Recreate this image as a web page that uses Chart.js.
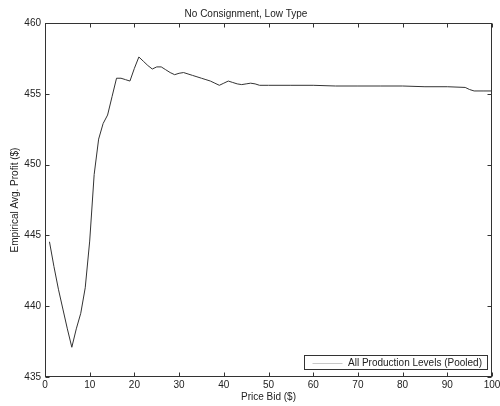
<!DOCTYPE html>
<html>
<head>
<meta charset="utf-8">
<script src="https://cdn.jsdelivr.net/npm/chart.js@4/dist/chart.umd.min.js"></script>
<style>
  html, body { margin: 0; padding: 0; background: #fff; }
  #wrap { position: relative; width: 500px; height: 406px; }
</style>
</head>
<body>
<div id="wrap"><canvas id="chart" width="500" height="406"></canvas></div>
<script>
// price bid ($) and pooled empirical average profit ($)
const priceBid = [1, 2, 3, 4, 5, 6, 7, 8, 9, 10, 11, 12, 13, 14, 15, 16, 17, 18, 19, 20,
  21, 22, 23, 24, 25, 26, 27, 28, 29, 30, 31, 32, 33, 34, 35, 36, 37, 38, 39, 40,
  41, 42, 43, 44, 45, 46, 47, 48, 50, 55, 60, 65, 70, 75, 80, 85, 90, 94, 95, 96, 98, 100];
const avgProfit = [444.55, 442.8, 441.2, 439.8, 438.4, 437.1, 438.4, 439.5, 441.3, 444.6,
  449.3, 451.8, 452.9, 453.5, 454.8, 456.1, 456.1, 456.0, 455.9, 456.8,
  457.6, 457.3, 457.0, 456.75, 456.9, 456.9, 456.7, 456.5, 456.35, 456.45,
  456.5, 456.4, 456.3, 456.2, 456.1, 456.0, 455.9, 455.75, 455.6, 455.75,
  455.9, 455.8, 455.7, 455.65, 455.7, 455.75, 455.7, 455.6, 455.6, 455.6,
  455.6, 455.55, 455.55, 455.55, 455.55, 455.5, 455.5, 455.45, 455.3, 455.2, 455.2, 455.2];
const seriesLabel = 'All Production Levels (Pooled)';
const xTicks = [0, 10, 20, 30, 40, 50, 60, 70, 80, 90, 100];
const yTicks = [435, 440, 445, 450, 455, 460];

const FONT = { family: '"Liberation Sans", Arial, Helvetica, sans-serif', size: 10, lineHeight: 1.2 };
const INK = '#222';

// matlab style box, inward ticks on all four sides, legend in the lower right
const matlabFrame = {
  id: 'matlabFrame',
  afterDraw(chart) {
    const { ctx, chartArea: a, scales: { x, y } } = chart;
    const L = Math.round(a.left) + 0.5, R = Math.round(a.right) - 0.5;
    const T = Math.round(a.top) + 0.5, B = Math.round(a.bottom) - 0.5;
    ctx.save();
    ctx.strokeStyle = '#333';
    ctx.lineWidth = 1;
    ctx.strokeRect(L, T, R - L, B - T);
    ctx.beginPath();
    x.ticks.forEach(t => {
      const px = Math.round(x.getPixelForValue(t.value)) + 0.5;
      ctx.moveTo(px, B); ctx.lineTo(px, B - 4);
      ctx.moveTo(px, T); ctx.lineTo(px, T + 4);
    });
    y.ticks.forEach(t => {
      const py = Math.round(y.getPixelForValue(t.value)) + 0.5;
      ctx.moveTo(L, py); ctx.lineTo(L + 4, py);
      ctx.moveTo(R, py); ctx.lineTo(R - 4, py);
    });
    ctx.stroke();

    // legend
    ctx.font = `${FONT.size}px ${FONT.family}`;
    const tw = ctx.measureText(seriesLabel).width;
    const w = Math.round(tw + 49), h = 14;
    const lx = Math.round(a.right) - 5 - w + 0.5, ly = B - 7 - h;
    ctx.fillStyle = '#fff';
    ctx.fillRect(lx, ly, w, h);
    ctx.strokeStyle = '#333';
    ctx.strokeRect(lx, ly, w, h);
    ctx.strokeStyle = '#c8c8c8';
    ctx.beginPath();
    ctx.moveTo(lx + 8, ly + 8); ctx.lineTo(lx + 38, ly + 8);
    ctx.stroke();
    ctx.fillStyle = INK;
    ctx.textBaseline = 'middle';
    ctx.fillText(seriesLabel, lx + 43.5, ly + h / 2 + 0.5);
    ctx.restore();
  }
};

new Chart(document.getElementById('chart'), {
  type: 'line',
  data: {
    datasets: [{
      label: seriesLabel,
      data: priceBid.map((p, i) => ({ x: p, y: avgProfit[i] })),
      borderColor: '#333',
      borderWidth: 1,
      pointRadius: 0,
      tension: 0,
      fill: false
    }]
  },
  options: {
    responsive: false,
    animation: false,
    devicePixelRatio: 1,
    layout: { padding: { left: 0, right: 8, top: 0, bottom: 0 } },
    plugins: {
      legend: { display: false },
      tooltip: { enabled: false },
      title: {
        display: true,
        text: 'No Consignment, Low Type',
        color: INK,
        font: { ...FONT, weight: 'normal' },
        padding: { top: 8, bottom: 3 }
      }
    },
    scales: {
      x: {
        type: 'linear',
        min: 0, max: 100,
        afterBuildTicks: s => { s.ticks = xTicks.map(v => ({ value: v })); },
        afterFit: s => { s.height = 29; s.paddingLeft = 0; s.paddingRight = 0; },
        grid: { display: false, drawTicks: false },
        border: { display: false },
        ticks: { color: INK, font: FONT, padding: 2, maxRotation: 0, autoSkip: false },
        title: { display: true, text: 'Price Bid ($)', color: INK, font: FONT, padding: { top: 0, bottom: 3 } }
      },
      y: {
        min: 435, max: 460,
        afterBuildTicks: s => { s.ticks = yTicks.map(v => ({ value: v })); },
        afterFit: s => { s.width = 45; s.paddingTop = 0; s.paddingBottom = 0; },
        grid: { display: false, drawTicks: false },
        border: { display: false },
        ticks: { color: INK, font: FONT, padding: 4 },
        title: { display: true, text: 'Empirical Avg. Profit ($)', color: INK, font: FONT, padding: { top: 9, bottom: 0 } }
      }
    }
  },
  plugins: [matlabFrame]
});
</script>
</body>
</html>
